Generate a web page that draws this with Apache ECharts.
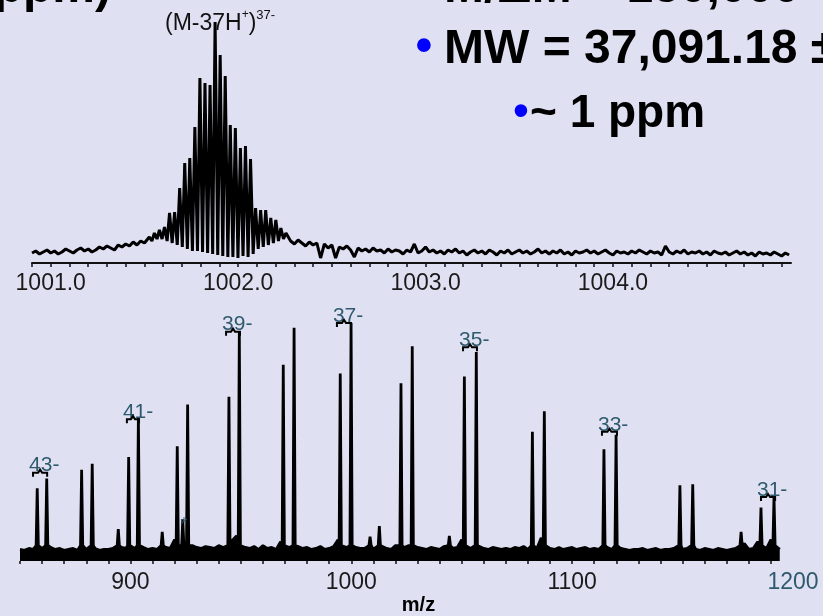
<!DOCTYPE html>
<html>
<head>
<meta charset="utf-8">
<script src="https://cdn.jsdelivr.net/npm/echarts@6/dist/echarts.min.js"></script>
<style>
  html, body { margin: 0; padding: 0; background: #e0e0f3; }
  #chart { width: 823px; height: 616px; }
</style>
</head>
<body>
<div id="chart"></div>
<script>
const FONT = '"Liberation Sans", Arial, sans-serif'
const SLATE = '#2f5a6e'

// zoomed spectrum, 1000.9 - 1004.95 (noise sampled every 0.02)
const topNoiseStart = 1000.9
const topNoiseLeft = [10, 12, 9, 11, 13, 10, 12, 9, 11, 14, 12, 10, 13, 15, 12, 14, 11, 13, 16, 14,
  17, 15, 13, 18, 16, 19, 17, 21, 18, 22, 20]
const topNoiseRightStart = 1002.28
const topNoiseRight = [
  22, 19, 23, 20, 17, 21, 18, 20, 5, 19,
  15, 18, 5, 16, 14, 17, 13, 6, 15, 12,
  14, 11, 15, 12, 13, 10, 14, 11, 13, 12,
  9, 13, 11, 19, 10, 12, 16, 11, 13, 10,
  12, 9, 13, 11, 14, 10, 12, 8, 11, 13,
  10, 12, 9, 13, 11, 8, 12, 10, 13, 9,
  11, 13, 10, 12, 9, 11, 14, 10, 12, 9,
  12, 10, 13, 9, 11, 8, 12, 10, 11, 13,
  10, 12, 9, 11, 13, 10, 8, 12, 10, 11,
  9, 12, 10, 13, 11, 9, 12, 10, 11, 8,
  17, 11, 9, 12, 10, 13, 9, 11, 10, 12,
  9, 11, 8, 12, 10, 9, 11, 8, 10, 12,
  9, 11, 8, 10, 7, 11, 9, 10, 8, 11,
  9, 7, 10, 8]

// isotope cluster of (M-37H+)37-
const isoApexMz = [1001.526, 1001.553, 1001.580, 1001.607, 1001.634, 1001.661, 1001.688, 1001.715,
  1001.742, 1001.769, 1001.796, 1001.823, 1001.850, 1001.877, 1001.904, 1001.931, 1001.958,
  1001.985, 1002.012, 1002.039, 1002.066, 1002.093, 1002.120, 1002.147, 1002.174, 1002.201,
  1002.228, 1002.255]
const isoApexInt = [26, 30, 33, 36, 50, 51, 75, 100, 105, 136, 185, 180, 178, 241, 208, 187, 138,
  135, 115, 117, 104, 55, 53, 53, 45, 43, 35, 30]
const isoValleyMz = [1001.540, 1001.567, 1001.594, 1001.621, 1001.648, 1001.675, 1001.702, 1001.729,
  1001.756, 1001.783, 1001.810, 1001.837, 1001.864, 1001.891, 1001.918, 1001.945, 1001.972,
  1001.999, 1002.026, 1002.053, 1002.080, 1002.107, 1002.134, 1002.161, 1002.188, 1002.215,
  1002.242]
const isoValleyInt = [22, 24, 24, 22, 20, 18, 16, 14, 12, 12, 11, 10, 9, 8, 7, 6, 6, 5, 7, 6, 9, 14,
  16, 18, 20, 22, 24]

const topLabelValues = [1001, 1002, 1003, 1004]

// full charge state envelope, 850 - 1194 (noise sampled every 2)
const lowNoiseStart = 850
const lowNoise = [
  12, 11, 13, 12, 20, 13, 22, 14, 12, 13,
  11, 12, 13, 11, 18, 12, 20, 13, 11, 12,
  12, 13, 16, 14, 13, 20, 13, 24, 14, 12,
  13, 12, 17, 14, 13, 22, 26, 24, 28, 16,
  14, 13, 15, 14, 13, 16, 14, 22, 21, 26,
  22, 14, 13, 15, 12, 16, 13, 14, 12, 20,
  22, 14, 25, 15, 13, 14, 12, 13, 15, 12,
  13, 15, 22, 16, 14, 25, 14, 13, 13, 16,
  12, 17, 14, 13, 12, 16, 22, 14, 16, 24,
  14, 13, 12, 14, 13, 12, 15, 19, 13, 14,
  22, 14, 13, 24, 14, 13, 12, 14, 13, 12,
  13, 12, 14, 13, 15, 12, 22, 13, 24, 14,
  13, 12, 14, 12, 13, 14, 12, 13, 14, 12,
  13, 12, 20, 14, 12, 23, 13, 12, 11, 12,
  12, 13, 11, 12, 13, 11, 12, 12, 13, 20,
  12, 13, 18, 12, 11, 13, 12, 11, 13, 12,
  11, 12, 13, 14, 18, 12, 13, 20, 12, 13,
  22, 14, 12]
const peakFoot = 16
const peakMz = [857.8, 862.1, 877.9, 882.7, 894.5, 899.2, 903.6, 914.4, 921.2, 923.7, 925.9, 944.6,
  949.3, 969.2, 974.1, 995.0, 999.9, 1008.5, 1012.7, 1022.5, 1027.6, 1044.4, 1051.2, 1056.6,
  1082.0, 1087.4, 1114.4, 1119.9, 1148.8, 1154.6, 1176.5, 1185.5, 1191.4]
const peakInt = [75, 85, 94, 100, 33, 107, 148, 30, 118, 43, 161, 169, 236, 202, 240, 193, 245, 25,
  36, 183, 221, 26, 190, 215, 133, 154, 115, 130, 78, 79, 30, 55, 66]

const chargeLabels = ['43-', '41-', '39-', '37-', '35-', '33-', '31-']
const bracketFrom = [855.9, 898.4, 943.3, 993.5, 1050.6, 1113.5, 1185.5]
const bracketTo = [862.3, 903.9, 949.6, 999.9, 1056.9, 1120.3, 1191.9]
const bracketInt = [91, 146, 236, 245, 220, 133, 66]
const starPoint = [924.3, 37]

const lowLabelValues = [900, 1000, 1100, 1200]

// ticks
const topTicks = []
for (let i = 0; i <= 40; i++) topTicks.push(Math.round((1000.9 + i * 0.1) * 10) / 10)
const lowTicks = []
for (let v = 850; v <= 1190; v += 10) lowTicks.push(v)

// build line data
const topData = []
topNoiseLeft.forEach((v, i) => topData.push([topNoiseStart + i * 0.02, v]))
isoApexMz.forEach((mz, i) => {
  topData.push([mz, isoApexInt[i]])
  if (i < isoValleyMz.length) topData.push([isoValleyMz[i], isoValleyInt[i]])
})
topNoiseRight.forEach((v, i) => topData.push([topNoiseRightStart + i * 0.02, v]))

const lowData = []
lowNoise.forEach((v, i) => {
  const mz = lowNoiseStart + i * 2
  if (!peakMz.some(p => Math.abs(p - mz) < 0.9)) lowData.push([mz, v])
})
peakMz.forEach((mz, i) => {
  lowData.push([mz - 0.5, peakFoot], [mz, peakInt[i]], [mz + 0.5, peakFoot])
})
lowData.sort((a, b) => a[0] - b[0])

const chart = echarts.init(document.getElementById('chart'))

const option = {
  backgroundColor: '#e0e0f3',
  animation: false,
  textStyle: {fontFamily: FONT},
  grid: [
    {left: 32, width: 759, top: 20, height: 243},
    {left: 20, width: 773, top: 320, height: 248}
  ],
  xAxis: [
    {
      gridIndex: 0,
      type: 'value',
      min: 1000.9,
      max: 1004.95,
      splitLine: {show: false},
      axisLine: {lineStyle: {color: '#111', width: 2}},
      axisTick: {customValues: topTicks, length: 4, lineStyle: {color: '#111', width: 1.5}},
      axisLabel: {
        customValues: topLabelValues,
        formatter: v => v.toFixed(1),
        fontSize: 23,
        fontFamily: FONT,
        color: '#1a1a1a',
        margin: 9
      }
    },
    {
      gridIndex: 1,
      type: 'value',
      min: 850,
      max: 1200,
      splitLine: {show: false},
      axisLine: {show: false},
      axisTick: {customValues: lowTicks, length: 3, lineStyle: {color: '#111', width: 1.5}},
      axisLabel: {
        customValues: lowLabelValues,
        formatter: v => String(v),
        fontSize: 23,
        fontFamily: FONT,
        color: v => (Number(v) === 1200 ? SLATE : '#1a1a1a'),
        margin: 10
      },
      name: 'm/z',
      nameLocation: 'middle',
      nameGap: 31,
      nameTextStyle: {fontWeight: 'bold', fontSize: 20, color: '#000', fontFamily: FONT, padding: [0, 0, 0, 24]}
    }
  ],
  yAxis: [
    {gridIndex: 0, type: 'value', min: 0, max: 243, show: false},
    {gridIndex: 1, type: 'value', min: 0, max: 248, show: false}
  ],
  series: [
    {
      type: 'line',
      xAxisIndex: 0,
      yAxisIndex: 0,
      data: topData,
      symbol: 'none',
      lineStyle: {color: '#000', width: 3},
      z: 3
    },
    {
      type: 'line',
      xAxisIndex: 1,
      yAxisIndex: 1,
      data: lowData,
      symbol: 'none',
      lineStyle: {color: '#000', width: 2.8},
      areaStyle: {color: '#000', opacity: 1, origin: 'start'},
      z: 3
    },
    {
      type: 'custom',
      xAxisIndex: 1,
      yAxisIndex: 1,
      data: bracketFrom.map((v, i) => [v, bracketTo[i], bracketInt[i]]),
      clip: false,
      z: 4,
      renderItem(params, api) {
        const a = api.coord([api.value(0), api.value(2)])
        const b = api.coord([api.value(1), api.value(2)])
        const mid = (a[0] + b[0]) / 2
        const y = a[1]
        return {
          type: 'group',
          children: [
            {
              type: 'text',
              style: {
                text: chargeLabels[params.dataIndex],
                x: a[0] - 4,
                y: y - 7,
                align: 'left',
                verticalAlign: 'middle',
                font: '21px ' + FONT,
                fill: SLATE
              }
            },
            {
              type: 'polyline',
              shape: {points: [[a[0], y + 4], [a[0], y], [mid - 2, y], [mid, y - 3], [mid + 2, y], [b[0], y], [b[0], y + 4]]},
              style: {stroke: '#000', lineWidth: 2, fill: null}
            }
          ]
        }
      }
    },
    {
      type: 'scatter',
      xAxisIndex: 1,
      yAxisIndex: 1,
      data: [starPoint],
      symbolSize: 0,
      z: 5,
      label: {show: true, position: 'inside', formatter: '*', fontSize: 18, color: SLATE, fontFamily: FONT}
    }
  ],
  graphic: [
    {type: 'text', style: {text: 'ppm)', x: 111, y: -11, align: 'right', verticalAlign: 'middle', font: 'bold 48px ' + FONT, fill: '#000'}},
    {type: 'text', style: {text: 'M/ΔM = 150,000', x: 444, y: -11, align: 'left', verticalAlign: 'middle', font: 'bold 48px ' + FONT, fill: '#000'}},
    {type: 'text', style: {text: '•', x: 424, y: 48, align: 'center', verticalAlign: 'middle', font: 'bold 48px ' + FONT, fill: '#0000ff'}},
    {type: 'text', style: {text: 'MW = 37,091.18 ±', x: 444, y: 50, align: 'left', verticalAlign: 'middle', font: 'bold 48px ' + FONT, fill: '#000'}},
    {type: 'text', style: {text: '•', x: 521, y: 113, align: 'center', verticalAlign: 'middle', font: 'bold 44px ' + FONT, fill: '#0000ff'}},
    {type: 'text', style: {text: '~ 1 ppm', x: 530, y: 114, align: 'left', verticalAlign: 'middle', font: 'bold 46px ' + FONT, fill: '#000'}},
    {
      type: 'text',
      style: {
        x: 165,
        y: 9,
        align: 'left',
        verticalAlign: 'top',
        text: '{a|(M-37H}{p|+}{a|)}{s|37-}',
        rich: {
          a: {fontSize: 23, fontFamily: FONT, fill: '#111', lineHeight: 26, verticalAlign: 'bottom'},
          p: {fontSize: 12, fontFamily: FONT, fill: '#111', lineHeight: 14, verticalAlign: 'top'},
          s: {fontSize: 13, fontFamily: FONT, fill: '#111', lineHeight: 14, verticalAlign: 'top'}
        }
      },
      z: 10
    }
  ]
}

chart.setOption(option)
</script>
</body>
</html>
